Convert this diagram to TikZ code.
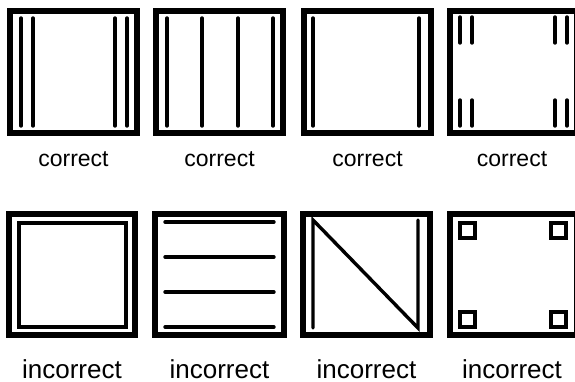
\documentclass[tikz,border=0pt]{standalone}
\usepackage{fontspec}
\setmainfont{Liberation Sans}

\begin{document}
\begin{tikzpicture}[
    x=1pt, y=-1pt,
    frame/.style={draw, line width=6pt},
    bar/.style={draw, line width=3.4pt, line cap=round},
    thin box/.style={draw, line width=4pt},
    good/.style={font=\fontsize{23}{27}\selectfont, anchor=base, inner sep=0pt},
    bad/.style={font=\fontsize{26}{30}\selectfont, anchor=base, inner sep=0pt},
]
\useasboundingbox (0,0) rectangle (575,381);

% Top row frames
\draw[frame] (10,11)  rectangle (137,133);
\draw[frame] (156,11) rectangle (283,133);
\draw[frame] (304,11) rectangle (431,133);
\draw[frame] (450,11) rectangle (577,133);

% Top row bars
\draw[bar] (21,18) -- (21,126);
\draw[bar] (33,18) -- (33,126);
\draw[bar] (115,18) -- (115,126);
\draw[bar] (127,18) -- (127,126);

\draw[bar] (167,18) -- (167,126);
\draw[bar] (202,18) -- (202,126);
\draw[bar] (238,18) -- (238,126);
\draw[bar] (273,18) -- (273,126);

\draw[bar] (313,18) -- (313,126);
\draw[bar] (419,18) -- (419,126);

\draw[bar] (460,17) -- (460,43);
\draw[bar] (472,17) -- (472,43);
\draw[bar] (555,17) -- (555,43);
\draw[bar] (567,17) -- (567,43);
\draw[bar] (460,100) -- (460,126);
\draw[bar] (472,100) -- (472,126);
\draw[bar] (555,100) -- (555,126);
\draw[bar] (567,100) -- (567,126);

% Top row labels
\node[good] (c1) at (73.5,166)  {correct};
\node[good] (c2) at (219.5,166) {correct};
\node[good] (c3) at (367.5,166) {correct};
\node[good] (c4) at (512,166)   {correct};

% Bottom row frames
\draw[frame] (9,214)   rectangle (135,335);
\draw[frame] (155,214) rectangle (284,335);
\draw[frame] (303,214) rectangle (430,335);
\draw[frame] (450,214) rectangle (577,335);

% Bottom row contents
\draw[thin box] (19,223) rectangle (126,327);

\draw[bar] (165,222) -- (274,222);
\draw[bar] (165,257) -- (274,257);
\draw[bar] (165,292) -- (274,292);
\draw[bar] (165,327) -- (274,327);

\draw[bar, line join=miter] (313,328) -- (313,220) -- (418,328) -- (418,220);

\draw[thin box] (460,223) rectangle (475,238);
\draw[thin box] (551,223) rectangle (566,238);
\draw[thin box] (460,312) rectangle (475,327);
\draw[thin box] (551,312) rectangle (566,327);

% Bottom row labels
\node[bad] (i1) at (72,378)    {incorrect};
\node[bad] (i2) at (219.5,378) {incorrect};
\node[bad] (i3) at (366.5,378) {incorrect};
\node[bad] (i4) at (512,378)   {incorrect};
\end{tikzpicture}
\end{document}
